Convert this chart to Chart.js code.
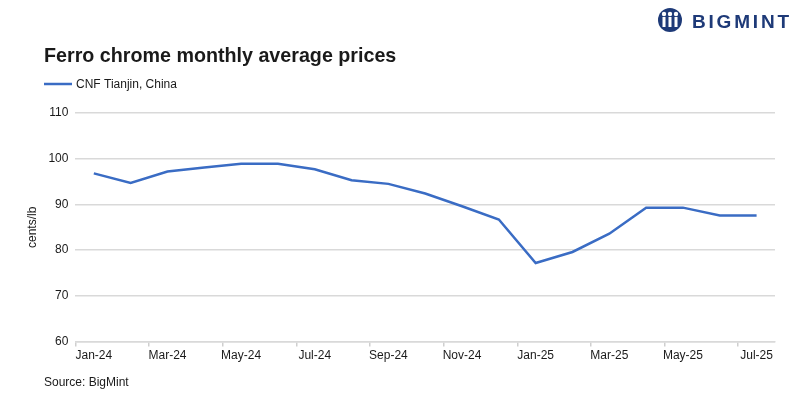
<!DOCTYPE html>
<html>
<head>
<meta charset="utf-8">
<script src="https://cdn.jsdelivr.net/npm/chart.js@4.4.0/dist/chart.umd.min.js"></script>
<style>
  html, body { margin: 0; padding: 0; background: #fff; }
  #wrap { width: 800px; height: 399px; position: relative; }
</style>
</head>
<body>
<div id="wrap"><canvas id="price-chart"></canvas></div>
<script>
// Ferro chrome, CNF Tianjin, cents/lb
var months = ["Jan-24", "Feb-24", "Mar-24", "Apr-24", "May-24", "Jun-24", "Jul-24", "Aug-24", "Sep-24", "Oct-24",
    "Nov-24", "Dec-24", "Jan-25", "Feb-25", "Mar-25", "Apr-25", "May-25", "Jun-25", "Jul-25"];
var tianjin = [96.8, 94.7, 97.2, 98.1, 98.9, 98.9, 97.7, 95.3, 94.5, 92.4,
    89.6, 86.7, 77.2, 79.6, 83.6, 89.3, 89.3, 87.6, 87.6];
var yTicks = [60, 70, 80, 90, 100, 110];

var FONT = "'Liberation Sans', Arial, sans-serif";
var INK = "#1a1a1a";

// title, legend, source line and logo
var decor = {
    id: 'decor',
    afterDraw: function (chart) {
        var ctx = chart.ctx;
        var ds = chart.data.datasets[0];
        ctx.save();
        ctx.textBaseline = 'alphabetic';
        ctx.fillStyle = INK;
        ctx.font = "bold 19.7px " + FONT;
        ctx.fillText("Ferro chrome monthly average prices", 44, 62);

        ctx.strokeStyle = ds.borderColor;
        ctx.lineWidth = 2.5;
        ctx.beginPath();
        ctx.moveTo(44, 84);
        ctx.lineTo(72, 84);
        ctx.stroke();
        ctx.font = "12px " + FONT;
        ctx.fillStyle = INK;
        ctx.fillText(ds.label, 76, 88);

        ctx.fillText("Source: BigMint", 44, 386);

        // logo
        var navy = "#1e3a78";
        ctx.fillStyle = navy;
        ctx.beginPath();
        ctx.arc(670, 20, 12, 0, Math.PI * 2);
        ctx.fill();
        ctx.fillStyle = "#fff";
        [664, 670, 676].forEach(function (cx) {
            ctx.beginPath();
            ctx.arc(cx, 14, 2.2, 0, Math.PI * 2);
            ctx.fill();
            ctx.fillRect(cx - 1.5, 17, 3, 10);
        });
        ctx.fillStyle = navy;
        ctx.font = "bold 19px " + FONT;
        ctx.letterSpacing = "2.8px";
        ctx.fillText("BIGMINT", 692, 28);
        ctx.restore();
    }
};

// tick marks only under the labelled months
function tickMarkColor(c) {
    return c.index % 2 === 0 ? "#cfcfcf" : "rgba(0,0,0,0)";
}

new Chart(document.getElementById("price-chart"), {
    type: 'line',
    data: {
        labels: months,
        datasets: [{
            label: "CNF Tianjin, China",
            data: tianjin,
            borderColor: "#3a6cc4",
            backgroundColor: "#3a6cc4",
            borderWidth: 2.5,
            pointRadius: 0,
            tension: 0,
            fill: false
        }]
    },
    options: {
        responsive: true,
        maintainAspectRatio: false,
        animation: false,
        layout: { padding: { top: 113, right: 25, bottom: 34, left: 25 } },
        plugins: {
            legend: { display: false },
            title: { display: false },
            tooltip: { enabled: false }
        },
        scales: {
            x: {
                offset: true,
                grid: { offset: true, drawOnChartArea: false, color: tickMarkColor, tickLength: 5, lineWidth: 1.5 },
                border: { color: "#d9d9d9", width: 1.5 },
                ticks: {
                    color: INK, font: { family: FONT, size: 12 }, autoSkip: false, maxRotation: 0, padding: 2,
                    callback: function (v, i) { return i % 2 === 0 ? this.getLabelForValue(v) : ""; }
                }
            },
            y: {
                min: 60,
                max: 110,
                afterBuildTicks: function (axis) {
                    axis.ticks = yTicks.map(function (v) { return { value: v }; });
                },
                grid: { color: "#d9d9d9", lineWidth: 1.5, drawTicks: false },
                border: { display: false },
                ticks: { color: INK, font: { family: FONT, size: 12 }, padding: 7 },
                title: { display: true, text: "cents/lb", color: INK, font: { family: FONT, size: 12 }, padding: { top: 0, bottom: 2 } }
            }
        }
    },
    plugins: [decor]
});
</script>
</body>
</html>
